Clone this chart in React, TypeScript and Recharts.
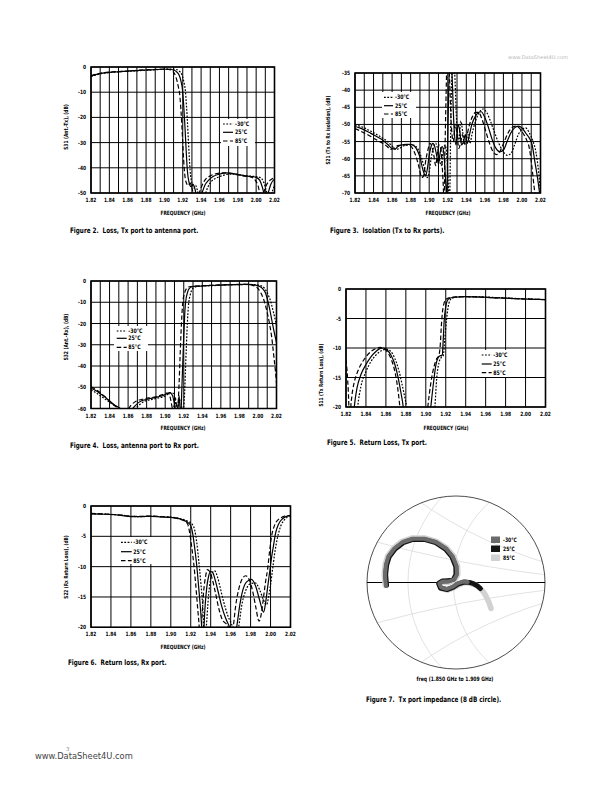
import React from 'react';
import { LineChart, Line, XAxis, YAxis, CartesianGrid, ReferenceArea, ReferenceLine } from 'recharts';

type Pt = [number, number];

// ---------- ticks & labels ----------
const FREQ_FINE_TICKS = [1.82, 1.83, 1.84, 1.85, 1.86, 1.87, 1.88, 1.89, 1.9, 1.91, 1.92, 1.93, 1.94, 1.95, 1.96, 1.97, 1.98, 1.99, 2.0, 2.01, 2.02];
const FREQ_LABEL_TICKS = [1.82, 1.84, 1.86, 1.88, 1.9, 1.92, 1.94, 1.96, 1.98, 2.0, 2.02];
const FIG2_Y_TICKS = [0, -10, -20, -30, -40, -50];
const FIG3_Y_TICKS = [-35, -40, -45, -50, -55, -60, -65, -70];
const FIG4_Y_TICKS = [0, -10, -20, -30, -40, -50, -60];
const FIG5_Y_TICKS = [0, -5, -10, -15, -20];
const FIG6_Y_TICKS = [0, -5, -10, -15, -20];
const TEMPS = ['-30°C', '25°C', '85°C'];

// ---------- Figure 2: S31 (Ant.-Tx) ----------
const FIG2_M30: Pt[] = [[1.82,-3.8],[1.825,-3.2],[1.83,-2.7],[1.84,-2.2],[1.85,-1.9],[1.86,-1.7],[1.87,-1.5],[1.88,-1.3],[1.89,-1.1],[1.9,-0.9],[1.908,-0.8],[1.913,-1.0],[1.916,-1.6],[1.919,-3],[1.921,-5.5],[1.923,-10],[1.924,-15],[1.925,-21],[1.926,-28],[1.927,-35],[1.928,-41],[1.93,-46],[1.932,-48],[1.934,-47],[1.936,-49],[1.938,-52],[1.941,-54],[1.944,-51],[1.947,-48],[1.951,-45.5],[1.957,-44],[1.964,-43],[1.971,-42.5],[1.978,-42.5],[1.985,-43],[1.993,-43.3],[2.0,-43.5],[2.004,-43.8],[2.008,-45.5],[2.011,-49],[2.014,-53],[2.017,-50],[2.02,-47]];
const FIG2_25: Pt[] = [[1.82,-3.6],[1.825,-3.0],[1.83,-2.6],[1.835,-2.3],[1.84,-2.1],[1.85,-1.9],[1.86,-1.6],[1.87,-1.4],[1.88,-1.2],[1.89,-1.0],[1.9,-0.9],[1.905,-0.9],[1.91,-1.2],[1.913,-1.8],[1.916,-3.2],[1.918,-5.5],[1.92,-10],[1.921,-15],[1.922,-21],[1.923,-28],[1.924,-35],[1.925,-41],[1.927,-46],[1.929,-47.5],[1.931,-46.5],[1.933,-48],[1.935,-51],[1.938,-53],[1.941,-50],[1.944,-47],[1.948,-45],[1.953,-43.5],[1.96,-42.5],[1.968,-42],[1.975,-42.3],[1.982,-42.8],[1.99,-43.3],[1.996,-43.5],[2.0,-43.8],[2.004,-45],[2.007,-48],[2.01,-52],[2.013,-50],[2.016,-46.5],[2.02,-44.5]];
const FIG2_85: Pt[] = [[1.82,-3.4],[1.825,-2.9],[1.83,-2.5],[1.84,-2.0],[1.85,-1.8],[1.86,-1.6],[1.87,-1.3],[1.88,-1.1],[1.89,-1.0],[1.9,-0.8],[1.905,-1.0],[1.908,-1.5],[1.911,-2.6],[1.913,-4.5],[1.915,-7.5],[1.917,-12],[1.918,-17],[1.919,-23],[1.92,-30],[1.921,-37],[1.922,-42],[1.924,-46],[1.926,-47],[1.928,-46],[1.93,-48],[1.932,-51],[1.935,-53],[1.938,-50],[1.941,-47],[1.945,-44.5],[1.95,-43.2],[1.957,-42.3],[1.965,-42],[1.972,-42.2],[1.98,-42.8],[1.987,-43.3],[1.993,-43.5],[1.998,-44.5],[2.002,-47],[2.005,-51],[2.008,-50],[2.011,-47],[2.015,-45],[2.02,-44]];

// ---------- Figure 3: S21 isolation ----------
const FIG3_M30: Pt[] = [[1.82,-50.1],[1.825,-50.5],[1.83,-51],[1.835,-51.7],[1.84,-52.4],[1.845,-53.2],[1.85,-54],[1.855,-55],[1.86,-56.3],[1.864,-57.3],[1.868,-57],[1.872,-56.3],[1.877,-56],[1.882,-56],[1.886,-56.5],[1.889,-57.8],[1.892,-60],[1.895,-63],[1.898,-65.5],[1.9,-64],[1.902,-60],[1.905,-56.5],[1.907,-55.5],[1.909,-57],[1.911,-60],[1.913,-62],[1.915,-58],[1.917,-56],[1.919,-59],[1.92,-64],[1.921,-70],[1.922,-72],[1.923,-55],[1.924,-40],[1.925,-33],[1.927,-33],[1.928,-38],[1.929,-46],[1.93,-51],[1.932,-55],[1.934,-49],[1.936,-52],[1.938,-56],[1.94,-54.5],[1.942,-53],[1.944,-55.5],[1.946,-53],[1.95,-49],[1.954,-46.5],[1.958,-45.5],[1.962,-46.5],[1.966,-49],[1.97,-52],[1.975,-55.5],[1.98,-58],[1.984,-59],[1.988,-58.5],[1.992,-56],[1.996,-53],[2.0,-51.5],[2.004,-51],[2.008,-52.5],[2.012,-55],[2.015,-58],[2.018,-64],[2.02,-70]];
const FIG3_25: Pt[] = [[1.82,-50.6],[1.825,-51],[1.83,-51.6],[1.835,-52.3],[1.84,-53],[1.845,-53.8],[1.85,-54.6],[1.855,-55.8],[1.86,-57],[1.863,-57.2],[1.866,-56.5],[1.87,-56],[1.875,-55.8],[1.88,-55.8],[1.884,-56.3],[1.887,-57.5],[1.89,-59.5],[1.893,-63],[1.896,-65],[1.898,-63],[1.9,-59],[1.902,-56.5],[1.904,-55.5],[1.906,-56.5],[1.908,-59],[1.91,-61.5],[1.912,-58],[1.914,-56.5],[1.916,-59],[1.917,-63],[1.918,-68],[1.919,-72],[1.92,-55],[1.921,-40],[1.922,-33],[1.924,-33],[1.925,-38],[1.926,-46],[1.927,-52],[1.929,-56],[1.931,-50],[1.933,-52],[1.935,-56],[1.937,-55],[1.939,-53],[1.941,-55.5],[1.943,-53.5],[1.946,-50],[1.95,-47.5],[1.953,-46.5],[1.956,-46.3],[1.96,-48],[1.964,-51],[1.968,-54.5],[1.972,-57],[1.976,-58],[1.98,-57.5],[1.984,-55],[1.988,-52.5],[1.992,-51],[1.996,-50.5],[2.0,-51],[2.004,-52.5],[2.008,-54],[2.011,-56],[2.014,-61],[2.017,-66],[2.019,-70],[2.02,-72]];
const FIG3_85: Pt[] = [[1.82,-51.2],[1.825,-51.8],[1.83,-52.5],[1.835,-53.2],[1.84,-54],[1.845,-54.8],[1.85,-55.5],[1.855,-56.5],[1.858,-57.3],[1.862,-56.8],[1.866,-56.2],[1.87,-56],[1.875,-56],[1.88,-56.3],[1.883,-57.5],[1.886,-59.5],[1.889,-62.5],[1.892,-65.5],[1.894,-65],[1.896,-61],[1.899,-57],[1.901,-55.5],[1.903,-56.5],[1.905,-59],[1.907,-62],[1.909,-58],[1.911,-56],[1.913,-58],[1.914,-62],[1.915,-67],[1.916,-72],[1.917,-58],[1.918,-44],[1.919,-34],[1.921,-33],[1.922,-37],[1.923,-45],[1.924,-51],[1.926,-55],[1.928,-50],[1.93,-53],[1.932,-57],[1.934,-55],[1.936,-53],[1.938,-55.5],[1.94,-54],[1.943,-50.5],[1.947,-47.5],[1.95,-46.5],[1.953,-46.5],[1.957,-48.5],[1.961,-52],[1.965,-55.5],[1.969,-58],[1.973,-58.8],[1.977,-57.5],[1.981,-55],[1.985,-52.5],[1.989,-51],[1.993,-50.5],[1.997,-51],[2.001,-52.5],[2.005,-54.5],[2.008,-57],[2.011,-63],[2.013,-68],[2.015,-72]];

// ---------- Figure 4: S32 (Ant.-Rx) ----------
const FIG4_M30: Pt[] = [[1.82,-51.3],[1.825,-52.5],[1.83,-54],[1.835,-55.5],[1.84,-57],[1.845,-58.5],[1.85,-59.8],[1.855,-60.5],[1.86,-61],[1.865,-61],[1.869,-59.5],[1.873,-58],[1.878,-56.5],[1.883,-56],[1.888,-55.5],[1.893,-55],[1.898,-54.5],[1.902,-53.5],[1.906,-52.5],[1.909,-53],[1.911,-57],[1.913,-61],[1.915,-57],[1.917,-56],[1.918,-60],[1.919,-63],[1.921,-52],[1.922,-40],[1.923,-29],[1.924,-19],[1.925,-12],[1.927,-6.5],[1.929,-4],[1.932,-2.8],[1.94,-2.4],[1.95,-2.2],[1.96,-2.0],[1.97,-1.8],[1.98,-1.7],[1.99,-1.6],[1.996,-1.7],[2.001,-2.0],[2.005,-2.6],[2.008,-4],[2.011,-6.5],[2.014,-10],[2.016,-13.5],[2.018,-17],[2.02,-21]];
const FIG4_25: Pt[] = [[1.82,-50.5],[1.825,-51.5],[1.83,-53],[1.835,-54.5],[1.84,-56.5],[1.845,-58.2],[1.85,-59.5],[1.855,-61],[1.86,-61.5],[1.864,-60.5],[1.868,-58.5],[1.872,-57],[1.877,-56],[1.882,-55.5],[1.887,-55],[1.892,-54.5],[1.897,-54],[1.901,-53.2],[1.905,-52.5],[1.908,-54],[1.91,-58],[1.912,-62],[1.914,-58],[1.915,-54],[1.916,-60],[1.917,-62],[1.918,-50],[1.919,-38],[1.92,-26],[1.921,-16],[1.922,-10],[1.924,-5.5],[1.926,-3.5],[1.929,-2.7],[1.935,-2.4],[1.945,-2.2],[1.955,-2.0],[1.965,-1.8],[1.975,-1.7],[1.985,-1.6],[1.993,-1.7],[1.998,-2.0],[2.002,-2.6],[2.005,-3.6],[2.008,-5.5],[2.011,-10],[2.013,-14],[2.015,-18.5],[2.017,-23],[2.02,-29]];
const FIG4_85: Pt[] = [[1.82,-49.8],[1.825,-51],[1.83,-52.5],[1.835,-54.5],[1.84,-56.5],[1.845,-58.5],[1.85,-60.5],[1.855,-62],[1.859,-61],[1.863,-58.5],[1.867,-57],[1.872,-56],[1.877,-55.5],[1.882,-55],[1.887,-54.8],[1.892,-54.2],[1.897,-53.5],[1.901,-52.8],[1.904,-53],[1.906,-56],[1.908,-60],[1.91,-58],[1.911,-55],[1.912,-58],[1.913,-62],[1.915,-48],[1.916,-36],[1.917,-25],[1.918,-16],[1.919,-10],[1.921,-5.5],[1.923,-3.5],[1.926,-2.7],[1.932,-2.4],[1.94,-2.2],[1.95,-2.0],[1.96,-1.8],[1.97,-1.7],[1.98,-1.6],[1.988,-1.6],[1.993,-1.9],[1.997,-2.5],[2.0,-3.5],[2.003,-5.5],[2.006,-8.5],[2.009,-13],[2.012,-19],[2.015,-27],[2.017,-35],[2.019,-43],[2.02,-48]];

// ---------- Figure 5: S11 (Tx return loss) ----------
const FIG5_M30: Pt[] = [[1.828,-28],[1.8317,-20],[1.835,-16.5],[1.84,-14],[1.845,-12.3],[1.85,-11.2],[1.855,-10.5],[1.8607,-10.2],[1.865,-10.6],[1.869,-11.8],[1.873,-13.8],[1.876,-16],[1.8785,-18],[1.8808,-20],[1.884,-25],[1.895,-30],[1.904,-28],[1.9091,-20],[1.911,-15],[1.9132,-12.5],[1.9155,-11.6],[1.9175,-11.3],[1.919,-8.5],[1.9208,-5.2],[1.922,-3.5],[1.9232,-2.4],[1.9258,-1.6],[1.93,-1.4],[1.94,-1.3],[1.95,-1.3],[1.96,-1.35],[1.97,-1.45],[1.98,-1.5],[1.99,-1.6],[2.0,-1.65],[2.01,-1.75],[2.02,-1.8]];
const FIG5_25: Pt[] = [[1.825,-28],[1.8283,-20],[1.831,-16.8],[1.835,-14.5],[1.84,-12.8],[1.845,-11.5],[1.85,-10.6],[1.854,-10.1],[1.8574,-10],[1.861,-10.3],[1.865,-11.2],[1.869,-12.8],[1.872,-14.8],[1.875,-17.5],[1.8774,-20],[1.88,-25],[1.89,-30],[1.9,-28],[1.905,-20],[1.908,-15.5],[1.91,-13],[1.9135,-11.4],[1.9165,-11.2],[1.9175,-8.5],[1.9185,-5.2],[1.92,-3],[1.9215,-2],[1.9235,-1.6],[1.928,-1.4],[1.94,-1.3],[1.95,-1.35],[1.96,-1.4],[1.97,-1.5],[1.98,-1.55],[1.99,-1.65],[2.0,-1.7],[2.01,-1.75],[2.02,-1.8]];
const FIG5_85: Pt[] = [[1.82,-12],[1.8215,-15],[1.823,-21],[1.8235,-26],[1.8245,-21],[1.826,-18],[1.828,-16],[1.831,-14.3],[1.835,-12.8],[1.84,-11.5],[1.845,-10.6],[1.85,-10.1],[1.854,-9.9],[1.858,-10.1],[1.862,-10.8],[1.866,-12.2],[1.869,-14],[1.872,-17],[1.874,-20],[1.876,-24],[1.88,-28],[1.89,-30],[1.898,-27],[1.902,-20],[1.905,-16],[1.908,-13.3],[1.911,-11.8],[1.913,-11.3],[1.9145,-9.5],[1.9155,-6.5],[1.9165,-4.2],[1.918,-2.6],[1.92,-1.8],[1.923,-1.5],[1.93,-1.35],[1.94,-1.3],[1.95,-1.35],[1.96,-1.4],[1.97,-1.5],[1.98,-1.55],[1.99,-1.65],[2.0,-1.7],[2.01,-1.75],[2.02,-1.8]];

// ---------- Figure 6: S22 (Rx return loss) ----------
const FIG6_M30: Pt[] = [[1.82,-1.3],[1.83,-1.3],[1.84,-1.4],[1.85,-1.5],[1.86,-1.7],[1.87,-1.75],[1.88,-1.7],[1.89,-1.75],[1.9,-1.85],[1.906,-1.95],[1.912,-2.2],[1.918,-2.6],[1.921,-2.9],[1.924,-4],[1.926,-6],[1.928,-9],[1.93,-12.5],[1.932,-16.5],[1.933,-20],[1.934,-24],[1.936,-19],[1.938,-14.5],[1.94,-12],[1.942,-10.9],[1.944,-10.7],[1.947,-11.8],[1.95,-13.8],[1.953,-15.8],[1.957,-18],[1.962,-20],[1.965,-22],[1.968,-20],[1.971,-16.5],[1.975,-14],[1.98,-12.8],[1.985,-12.7],[1.989,-13.8],[1.993,-15.5],[1.996,-16.3],[1.998,-15],[2.0,-13],[2.002,-10.5],[2.004,-8],[2.006,-6],[2.008,-4.5],[2.011,-3],[2.015,-2.1],[2.018,-1.7],[2.02,-1.6]];
const FIG6_25: Pt[] = [[1.82,-1.3],[1.83,-1.35],[1.84,-1.4],[1.85,-1.55],[1.86,-1.75],[1.87,-1.75],[1.88,-1.7],[1.89,-1.8],[1.9,-1.9],[1.906,-2.0],[1.912,-2.3],[1.917,-2.7],[1.92,-3.2],[1.922,-4.6],[1.924,-7],[1.926,-9.8],[1.928,-13.5],[1.93,-17.5],[1.931,-20],[1.932,-23],[1.933,-21],[1.934,-17.5],[1.936,-13.5],[1.938,-11.5],[1.94,-10.8],[1.942,-11],[1.945,-12.5],[1.948,-14.5],[1.951,-16.5],[1.955,-18.5],[1.959,-20],[1.963,-22],[1.966,-20],[1.969,-16.5],[1.972,-14],[1.976,-12.5],[1.981,-12.1],[1.985,-13.2],[1.989,-15.5],[1.993,-17.5],[1.995,-16],[1.997,-13.5],[1.999,-11],[2.001,-8.5],[2.003,-6.5],[2.005,-4.5],[2.008,-3],[2.012,-2.1],[2.016,-1.7],[2.02,-1.6]];
const FIG6_85: Pt[] = [[1.82,-1.2],[1.83,-1.3],[1.84,-1.35],[1.85,-1.5],[1.86,-1.7],[1.87,-1.7],[1.88,-1.65],[1.89,-1.75],[1.9,-1.85],[1.905,-2.0],[1.91,-2.2],[1.914,-2.5],[1.917,-3.0],[1.919,-4.5],[1.921,-6.8],[1.923,-9.5],[1.925,-13],[1.927,-17],[1.9285,-20],[1.9295,-23],[1.931,-19],[1.933,-14],[1.935,-11.5],[1.9365,-10.5],[1.939,-10.8],[1.942,-12.3],[1.945,-14.5],[1.948,-16.8],[1.951,-18.5],[1.9576,-20],[1.96,-23],[1.9626,-20],[1.965,-16.5],[1.968,-13.8],[1.971,-12.2],[1.975,-11.5],[1.979,-12.3],[1.982,-14],[1.985,-16.5],[1.9885,-19],[1.991,-17.5],[1.993,-15],[1.995,-12.5],[1.997,-10.5],[1.999,-7.5],[2.001,-5],[2.004,-3.2],[2.008,-2.2],[2.012,-1.8],[2.016,-1.6],[2.02,-1.6]];

// ---------- Figure 7: Tx port impedance (normalised to 8 dB circle) ----------
const SMITH_M30: Pt[] = [[-0.787,-0.04],[-0.798,0.094],[-0.787,0.206],[-0.76,0.3],[-0.693,0.393],[-0.599,0.468],[-0.487,0.506],[-0.356,0.506],[-0.225,0.468],[-0.112,0.393],[-0.037,0.3],[0.007,0.187],[0.011,0.094],[-0.019,0.037],[-0.086,0.011],[-0.15,0.011],[-0.187,-0.011],[-0.169,-0.056],[-0.101,-0.075],[-0.037,-0.049],[0.019,-0.011],[0.075,0.011],[0.131,0.007]];
const SMITH_25: Pt[] = [[-0.78,-0.03],[-0.79,0.094],[-0.778,0.206],[-0.75,0.298],[-0.684,0.388],[-0.592,0.46],[-0.484,0.497],[-0.356,0.497],[-0.228,0.46],[-0.118,0.386],[-0.045,0.295],[-0.003,0.185],[0.0,0.094],[-0.027,0.04],[-0.09,0.02],[-0.155,0.018],[-0.196,-0.01],[-0.175,-0.064],[-0.101,-0.082],[-0.03,-0.055],[0.03,-0.015],[0.09,0.005],[0.15,0.002],[0.2,-0.015],[0.24,-0.04],[0.275,-0.07]];
const SMITH_85: Pt[] = [[-0.795,-0.03],[-0.806,0.094],[-0.795,0.21],[-0.768,0.305],[-0.7,0.4],[-0.604,0.476],[-0.49,0.515],[-0.356,0.515],[-0.222,0.476],[-0.106,0.4],[-0.028,0.305],[0.017,0.19],[0.02,0.094],[-0.012,0.03],[-0.08,0.002],[-0.145,0.002],[-0.19,-0.02],[-0.165,-0.07],[-0.095,-0.088],[-0.025,-0.06],[0.04,-0.02],[0.11,0.0],[0.17,-0.01],[0.225,-0.03],[0.27,-0.065],[0.305,-0.105],[0.338,-0.16],[0.368,-0.225],[0.393,-0.3]];
const SMITH_COLORS = ['#6b6b6b', '#141414', '#d2d2d2'];

// ---------- helpers ----------
const FONT = "'Liberation Sans Narrow', 'DejaVu Sans Condensed', 'Arial Narrow', sans-serif";
const SQ = 0.84; // horizontal squeeze to mimic the condensed face of the original
const DASHES: (string | undefined)[] = ['1.8 1.5', undefined, '4.5 2.4'];
const rowsF = (pts: Pt[]) => pts.map(([f, db]) => ({ f, db }));
const rowsXY = (pts: Pt[]) => pts.map(([x, y]) => ({ x, y }));
const fmtFreq = (v: number) => (FREQ_LABEL_TICKS.some((t) => Math.abs(t - v) < 1e-6) ? v.toFixed(2) : '');

function XTick(props: any) {
  const { x, y, payload } = props;
  const label = fmtFreq(payload.value);
  return (
    <text transform={`translate(${x},${y}) scale(${SQ},1)`} textAnchor="middle" dy="0.71em" fontSize={5.8} fontWeight={700} fontFamily={FONT} fill="#000">{label}</text>
  );
}
function YTick(props: any) {
  const { x, y, payload } = props;
  return (
    <text transform={`translate(${x},${y}) scale(${SQ},1)`} textAnchor="end" dy="0.35em" fontSize={5.8} fontWeight={700} fontFamily={FONT} fill="#000">{payload.value}</text>
  );
}

const YW = 30, XH = 14, MT = 6, MR = 10;

function SChart({ box, yDomain, yTicks, xTicks, series }: { box: number[]; yDomain: [number, number]; yTicks: number[]; xTicks: number[]; series: Pt[][] }) {
  const [l, t, r, b] = box;
  const w = r - l, h = b - t;
  return (
    <div style={{ position: 'absolute', left: l - YW, top: t - MT }}>
      <LineChart width={YW + w + MR} height={MT + h + XH} margin={{ top: MT, right: MR, bottom: 0, left: 0 }}>
        <CartesianGrid stroke="#000" strokeWidth={1} />
        <XAxis dataKey="f" type="number" domain={[1.82, 2.02]} ticks={xTicks} interval={0} height={XH}
          tickLine={false} axisLine={false} tickSize={2} tickMargin={3} tick={<XTick />} allowDataOverflow />
        <YAxis type="number" domain={yDomain} ticks={yTicks} interval={0} width={YW}
          tickLine={false} axisLine={false} tickSize={2} tickMargin={3} tick={<YTick />} allowDataOverflow />
        <ReferenceArea x1={1.82} x2={2.02} y1={yDomain[0]} y2={yDomain[1]} fill="none" fillOpacity={0} stroke="#000" strokeWidth={1.6} />
        {series.map((s, i) => (
          <Line key={i} data={rowsF(s)} dataKey="db" type="monotone" stroke="#000" strokeWidth={1.2}
            strokeDasharray={DASHES[i]} dot={false} activeDot={false} isAnimationActive={false} />
        ))}
      </LineChart>
    </div>
  );
}

function TempLegend({ left, top, width, height, rowY, lineX, textX }: { left: number; top: number; width: number; height: number; rowY: number[]; lineX: [number, number]; textX: number }) {
  return (
    <svg style={{ position: 'absolute', left, top }} width={width} height={height}>
      <rect x={0} y={0} width={width} height={height} fill="#fff" />
      {TEMPS.map((label, i) => (
        <g key={label}>
          <line x1={lineX[0]} x2={lineX[1]} y1={rowY[i]} y2={rowY[i]} stroke="#000" strokeWidth={1.2} strokeDasharray={DASHES[i]} />
          <text transform={`translate(${textX},${rowY[i]}) scale(${SQ},1)`} dominantBaseline="central" fontSize={6.2} fontWeight={700} fontFamily={FONT} fill="#000">{label}</text>
        </g>
      ))}
    </svg>
  );
}

function Txt({ x, y, children, size = 6, weight = 700, anchor = 'left', color = '#000', family = FONT, squeeze = SQ }: any) {
  const tx = anchor === 'center' ? '-50%' : '0';
  const origin = anchor === 'center' ? 'center center' : 'left center';
  return (
    <div style={{ position: 'absolute', left: x, top: y, transform: `translate(${tx}, -50%)`, whiteSpace: 'nowrap', lineHeight: 1 }}>
      <div style={{ transform: `scaleX(${squeeze})`, transformOrigin: origin, fontSize: size, fontWeight: weight, fontFamily: family, color }}>{children}</div>
    </div>
  );
}

function VTxt({ x, y, children, size = 5.8 }: any) {
  return (
    <div style={{ position: 'absolute', left: x, top: y, transform: `translate(-50%, -50%) rotate(-90deg) scaleX(${SQ})`, fontSize: size, fontWeight: 700, fontFamily: FONT, whiteSpace: 'nowrap', lineHeight: 1 }}>
      {children}
    </div>
  );
}

// Smith chart grid (constant-resistance and constant-reactance arcs, display units)
const SMITH_R_ARCS = [{ c: 0.932, R: 1.472 }, { c: 1.235, R: 1.265 }];
const SMITH_X_ARCS = [0.2, 0.5, -0.2, -0.5];

function SmithChart() {
  const left = 367, top = 496, w = 178, h = 173;
  const cx = w / 2, cy = h / 2, sx = w / 2, sy = h / 2;
  return (
    <>
      <svg style={{ position: 'absolute', left, top, overflow: 'visible' }} width={w} height={h}>
        <defs>
          <clipPath id="smithClip"><ellipse cx={cx} cy={cy} rx={sx} ry={sy} /></clipPath>
        </defs>
        <g clipPath="url(#smithClip)" fill="none" stroke="#cfcfcf" strokeWidth={0.6}>
          {SMITH_R_ARCS.map((a, i) => (
            <ellipse key={'r' + i} cx={cx + a.c * sx} cy={cy} rx={a.R * sx} ry={a.R * sy} />
          ))}
          {SMITH_X_ARCS.map((x, i) => (
            <ellipse key={'x' + i} cx={cx + 2.5 * sx} cy={cy - (2.5 / x) * sy} rx={(2.5 / Math.abs(x)) * sx} ry={(2.5 / Math.abs(x)) * sy} />
          ))}
        </g>
        <ellipse cx={cx} cy={cy} rx={sx} ry={sy} fill="none" stroke="#000" strokeWidth={0.7} />
      </svg>
      <div style={{ position: 'absolute', left, top }}>
        <LineChart width={w} height={h} margin={{ top: 0, right: 0, bottom: 0, left: 0 }}>
          <XAxis dataKey="x" type="number" domain={[-1, 1]} hide allowDataOverflow />
          <YAxis type="number" domain={[-1, 1]} hide allowDataOverflow />
          <ReferenceLine y={0} stroke="#000" strokeWidth={1} />
          <Line data={rowsXY(SMITH_85)} dataKey="y" type="linear" stroke={SMITH_COLORS[2]} strokeWidth={5.6} strokeLinecap="round" strokeLinejoin="round" dot={false} activeDot={false} isAnimationActive={false} />
          <Line data={rowsXY(SMITH_25)} dataKey="y" type="linear" stroke={SMITH_COLORS[1]} strokeWidth={4.9} strokeLinecap="round" strokeLinejoin="round" dot={false} activeDot={false} isAnimationActive={false} />
          <Line data={rowsXY(SMITH_M30)} dataKey="y" type="linear" stroke={SMITH_COLORS[0]} strokeWidth={4} strokeLinecap="round" strokeLinejoin="round" dot={false} activeDot={false} isAnimationActive={false} />
        </LineChart>
      </div>
      <svg style={{ position: 'absolute', left: 488, top: 534 }} width={40} height={30}>
        {TEMPS.map((label, i) => (
          <g key={label}>
            <rect x={3} y={2.5 + i * 9} width={9} height={6.5} fill={SMITH_COLORS[i]} />
            <text transform={`translate(15,${5.8 + i * 9}) scale(${SQ},1)`} dominantBaseline="central" fontSize={6} fontWeight={700} fontFamily={FONT} fill="#000">{label}</text>
          </g>
        ))}
      </svg>
    </>
  );
}

export default function App() {
  return (
    <div style={{ position: 'absolute', left: 0, top: 0, width: 612, height: 792, background: '#fff', overflow: 'hidden', fontFamily: FONT }}>
      <Txt x={508} y={58} size={5.1} weight={400} color="#b8b8b8" family="'DejaVu Sans', sans-serif" squeeze={1}>www.DataSheet4U.com</Txt>

      {/* Figure 2 */}
      <SChart box={[91, 66.5, 274.5, 192.5]} yDomain={[-50, 0]} yTicks={FIG2_Y_TICKS} xTicks={FREQ_FINE_TICKS} series={[FIG2_M30, FIG2_25, FIG2_85]} />
      <TempLegend left={221} top={119} width={34} height={27} rowY={[5, 13.3, 22]} lineX={[2, 12]} textX={14} />
      <VTxt x={67} y={127}>S31 (Ant.-Tx), (dB)</VTxt>
      <Txt x={182.5} y={214} anchor="center" size={5.8}>FREQUENCY (GHz)</Txt>
      <Txt x={70} y={231} size={7.5}>Figure 2.&nbsp; Loss, Tx port to antenna port.</Txt>

      {/* Figure 3 */}
      <SChart box={[354.5, 72.5, 540, 192.5]} yDomain={[-70, -35]} yTicks={FIG3_Y_TICKS} xTicks={FREQ_FINE_TICKS} series={[FIG3_M30, FIG3_25, FIG3_85]} />
      <TempLegend left={382} top={92} width={34} height={26} rowY={[5.3, 13.7, 22]} lineX={[2, 11]} textX={13} />
      <VTxt x={328.5} y={130} size={5.6}>S21 (Tx to Rx isolation), (dB)</VTxt>
      <Txt x={448} y={214} anchor="center" size={5.8}>FREQUENCY (GHz)</Txt>
      <Txt x={330} y={231} size={7.5}>Figure 3.&nbsp; Isolation (Tx to Rx ports).</Txt>

      {/* Figure 4 */}
      <SChart box={[91, 280.5, 276.5, 408]} yDomain={[-60, 0]} yTicks={FIG4_Y_TICKS} xTicks={FREQ_FINE_TICKS} series={[FIG4_M30, FIG4_25, FIG4_85]} />
      <TempLegend left={114} top={326} width={34} height={25} rowY={[5, 12.3, 21.3]} lineX={[2.7, 12.7]} textX={14.3} />
      <VTxt x={67} y={337}>S32 (Ant.-Rx), (dB)</VTxt>
      <Txt x={183} y={429} anchor="center" size={5.8}>FREQUENCY (GHz)</Txt>
      <Txt x={70} y={446} size={7.5}>Figure 4.&nbsp; Loss, antenna port to Rx port.</Txt>

      {/* Figure 5 */}
      <SChart box={[346, 289.3, 545.5, 407.3]} yDomain={[-20, 0]} yTicks={FIG5_Y_TICKS} xTicks={FREQ_LABEL_TICKS} series={[FIG5_M30, FIG5_25, FIG5_85]} />
      <TempLegend left={480} top={350} width={35} height={27} rowY={[5, 14, 22.7]} lineX={[1.7, 11.7]} textX={13.3} />
      <VTxt x={322} y={375} size={5.6}>S11 (Tx Return Loss), (dB)</VTxt>
      <Txt x={446} y={429} anchor="center" size={5.8}>FREQUENCY (GHz)</Txt>
      <Txt x={327} y={443} size={7.5}>Figure 5.&nbsp; Return Loss, Tx port.</Txt>

      {/* Figure 6 */}
      <SChart box={[91, 506, 290.5, 627.3]} yDomain={[-20, 0]} yTicks={FIG6_Y_TICKS} xTicks={FREQ_LABEL_TICKS} series={[FIG6_M30, FIG6_25, FIG6_85]} />
      <TempLegend left={119} top={537} width={33} height={27} rowY={[5.3, 14.7, 23.7]} lineX={[2, 12.7]} textX={14.3} />
      <VTxt x={67} y={567} size={5.6}>S22 (Rx Return Loss), (dB)</VTxt>
      <Txt x={183} y={648} anchor="center" size={5.8}>FREQUENCY (GHz)</Txt>
      <Txt x={68} y={663} size={7.5}>Figure 6.&nbsp; Return loss, Rx port.</Txt>

      {/* Figure 7 */}
      <SmithChart />
      <Txt x={455} y={679} anchor="center" size={6}>freq (1.850 GHz to 1.909 GHz)</Txt>
      <Txt x={366} y={700} size={7.5}>Figure 7.&nbsp; Tx port impedance (8 dB circle).</Txt>

      {/* footer */}
      <Txt x={66} y={750} size={5.5} weight={400} color="#888" family="'DejaVu Sans', sans-serif" squeeze={1}>3</Txt>
      <Txt x={35} y={756} size={8.3} weight={400} color="#444" family="'DejaVu Sans', sans-serif" squeeze={1}>www.DataSheet4U.com</Txt>
    </div>
  );
}
